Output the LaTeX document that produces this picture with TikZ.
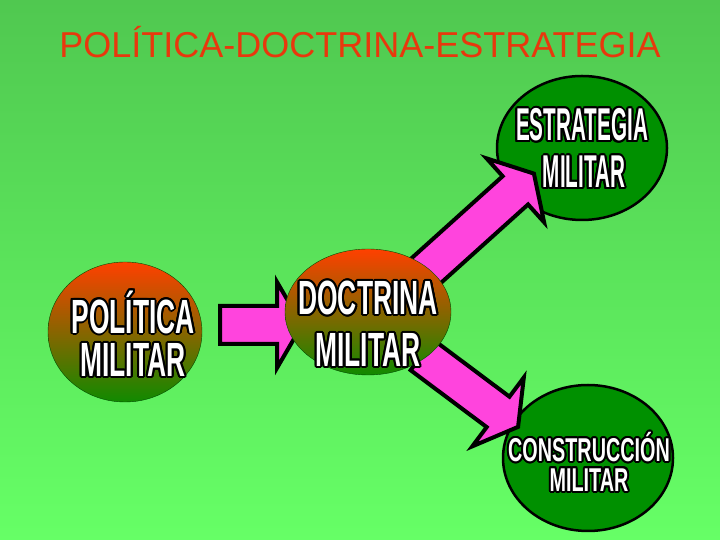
\documentclass[tikz,border=0pt]{standalone}
\usepackage{fontspec}
\setmainfont{Liberation Sans}
\usetikzlibrary{calc}
\definecolor{bgtop}{HTML}{50C850}
\definecolor{bgbot}{HTML}{66FF66}
\definecolor{ttl}{HTML}{E8380D}
\definecolor{mag}{HTML}{FF44DD}
\definecolor{eg}{HTML}{009000}
\definecolor{eor}{HTML}{FF4000}
\definecolor{egb}{HTML}{108A00}
\tikzset{
  lbl/.style={font=\bfseries\fontsize{48}{48}\selectfont, xscale=0.55, inner sep=0},
  lbln/.style={font=\bfseries\fontsize{46}{46}\selectfont, xscale=0.45, inner sep=0},
  lbls/.style={font=\bfseries\fontsize{33}{33}\selectfont, xscale=0.6, inner sep=0},
  fatarrow/.style={fill=mag, draw=black, line width=4pt, line join=miter},
  grad/.style={draw=black!70!green, thin, top color=eor, bottom color=egb, middle color=eor!50!egb},
  solid green/.style={draw=black, line width=2.5pt, fill=eg},
}
\newcommand\otext[4]{% name, pos, style, text
  \foreach \a in {0,22.5,...,337.5}{\node[#3,text=black] at ($(#2)+(\a:2pt)$) {#4};}
  \node[#3,text=white] (#1) at (#2) {#4};}
\newcommand\fatarr[4]{% tail, angle, length, name
  \begin{scope}[shift={(#1)}, rotate=#2]
  \draw[fatarrow] (0,-19) -- (#3-25,-19) -- (#3-25,-43) -- (#3,0) -- (#3-25,43) -- (#3-25,19) -- (0,19) -- cycle;
  \coordinate (#4) at (#3,0);
  \end{scope}}
\begin{document}
\begin{tikzpicture}[x=1pt,y=1pt]
\shade[top color=bgtop, bottom color=bgbot] (0,0) rectangle (720,540);
\useasboundingbox (0,0) rectangle (720,540);
\node[text=ttl, font=\fontsize{36}{36}\selectfont, inner sep=0] (title) at (360,498) {POLÍTICA-DOCTRINA-ESTRATEGIA};
% far ellipses
\draw[solid green] (582,392) ellipse [x radius=85, y radius=72];
\draw[solid green] (588,82) ellipse [x radius=85, y radius=73];
% arrows
\fatarr{220,215}{0}{82}{a1}
\fatarr{418,262}{42}{156}{a2}
\fatarr{422,185}{-36.8}{120}{a3}
% near ellipses
\draw[grad] (125,208) ellipse [x radius=77, y radius=70];
\draw[grad] (368,228) ellipse [x radius=83, y radius=63];
% texts
\otext{p1}{133,228}{lbl}{POLÍTICA}
\otext{p2}{133,180}{lbl}{MILITAR}
\otext{d1}{368,242}{lbl}{DOCTRINA}
\otext{d2}{368,190}{lbl}{MILITAR}
\otext{e1}{582,415}{lbln}{ESTRATEGIA}
\otext{e2}{584,368}{lbln}{MILITAR}
\otext{c1}{589,93}{lbls}{CONSTRUCCIÓN}
\otext{c2}{589,60}{lbls}{MILITAR}
\end{tikzpicture}
\end{document}
